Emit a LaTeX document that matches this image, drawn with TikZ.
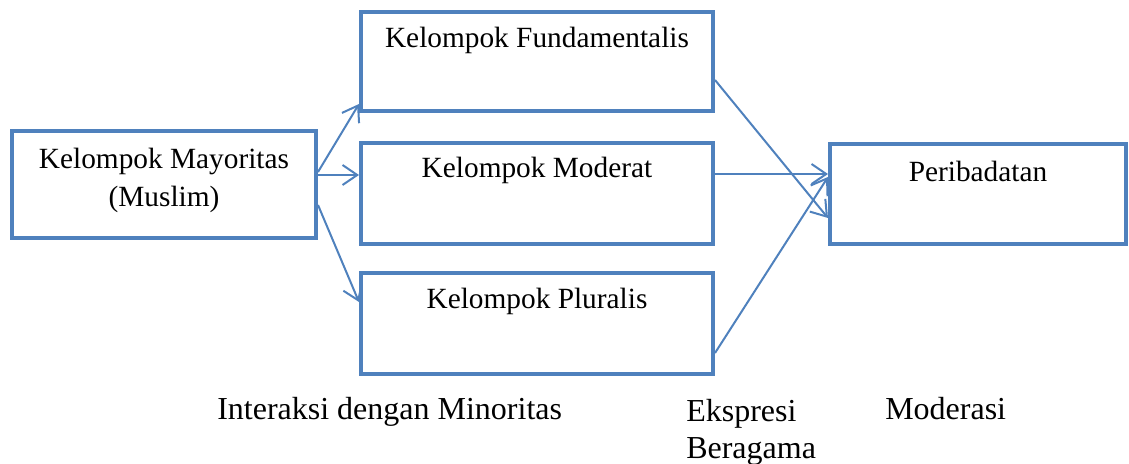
\documentclass[tikz,border=0pt]{standalone}
\usepackage{fontspec}
\setmainfont{Liberation Serif}
\usetikzlibrary{arrows.meta,calc}
\definecolor{boxblue}{RGB}{79,129,189}
\begin{document}
\begin{tikzpicture}[x=0.75pt,y=-0.75pt,
  box/.style={draw=boxblue,line width=3pt,rectangle,inner sep=0pt},
  conn/.style={draw=boxblue,line width=1.5pt,-{Straight Barb[length=11pt,width=15pt,line width=1.5pt]}},
  boxtext/.style={font=\fontsize{22}{28}\selectfont,align=center,inner sep=0pt},
  captext/.style={font=\fontsize{24}{28}\selectfont,align=left,inner sep=0pt,anchor=base west}]
\useasboundingbox (0,0) rectangle (1129,464);
\node[box,minimum width=304*0.75pt,minimum height=107*0.75pt] (may) at (164,184.5) {};
\node[box,minimum width=352*0.75pt,minimum height=99*0.75pt] (fund) at (537,61.5) {};
\node[box,minimum width=352*0.75pt,minimum height=101*0.75pt] (mod) at (537,193.5) {};
\node[box,minimum width=352*0.75pt,minimum height=101*0.75pt] (plu) at (537,323.5) {};
\node[box,minimum width=296*0.75pt,minimum height=100*0.75pt] (per) at (978,194) {};
\node[boxtext] (mayt) at ($(may.center)+(0,-4)$) {Kelompok Mayoritas\\(Muslim)};
\node[boxtext] (fundt) at ($(fund.north)+(0,30)$) {Kelompok Fundamentalis};
\node[boxtext] (modt) at ($(mod.north)+(0,29)$) {Kelompok Moderat};
\node[boxtext] (plut) at ($(plu.north)+(0,30)$) {Kelompok Pluralis};
\node[boxtext] (pert) at ($(per.north)+(0,29)$) {Peribadatan};
\draw[conn] ($(may.east)+(0,-12.5)$) -- ($(fund.west)+(0,42.5)$);
\draw[conn] ($(may.east)+(0,-9.5)$) -- ($(mod.west)+(0,-18.5)$);
\draw[conn] ($(may.east)+(0,20.5)$) -- ($(plu.west)+(0,-21.5)$);
\draw[conn] ($(fund.east)+(0,18.5)$) -- ($(per.west)+(0,24)$);
\draw[conn] ($(mod.east)+(0,-19.5)$) -- ($(per.west)+(0,-20)$);
\draw[conn] ($(plu.east)+(0,29.5)$) -- ($(per.west)+(0,-17)$);
\node[captext] (c1) at (217,419) {Interaksi dengan Minoritas};
\node[captext,anchor=north west] (c2) at (686,399) {Ekspresi\\Beragama};
\node[captext] (c3) at (885,419) {Moderasi};
\end{tikzpicture}
\end{document}
